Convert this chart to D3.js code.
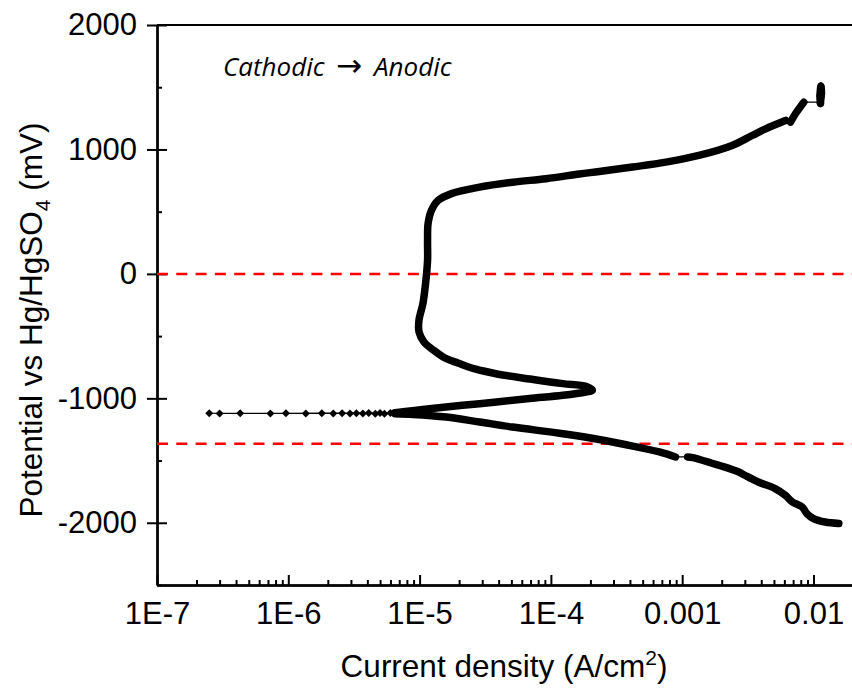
<!DOCTYPE html>
<html>
<head>
<meta charset="utf-8">
<style>
  body { margin: 0; background: #fff; }
  svg { display: block; font-family: "Liberation Sans", Arial, sans-serif; }
  .axis path, .axis line { stroke: #000; stroke-width: 2; }
  .axis text { font-size: 31px; fill: #000; font-family: "Liberation Sans", Arial, sans-serif; }
  .title { font-size: 31.5px; fill: #000; }
  .note { font-family: "Open Sans", sans-serif; font-style: italic; font-size: 26px; fill: #000; }
</style>
</head>
<body>
<div id="chart"></div>
<script src="https://cdnjs.cloudflare.com/ajax/libs/d3/7.8.5/d3.min.js"></script>
<script>
  // current density (A/cm2) and potential (mV), in scan order
  // cathodic branch, -2 V up to the small gap near 1 mA/cm2
  const cathodicI = [1.56e-2, 1.23e-2, 1.00e-2, 8.9e-3, 8.2e-3, 6.9e-3, 6.1e-3, 5.1e-3, 3.8e-3, 3.0e-3, 2.7e-3, 1.9e-3, 1.2e-3, 1.1e-3];
  const cathodicE = [-2006, -1994, -1966, -1926, -1873, -1833, -1779, -1725, -1672, -1618, -1592, -1538, -1476, -1471];

  // cathodic branch after the gap, down towards Ecorr
  const cathodicI2 = [8.9e-4, 6.7e-4, 3.75e-4, 2.06e-4, 1.16e-4, 5.1e-5, 2.86e-5, 1.6e-5, 8.9e-6, 6.5e-6];
  const cathodicE2 = [-1471, -1431, -1373, -1321, -1280, -1231, -1190, -1150, -1129, -1124];

  // sparse points around the corrosion potential
  const corrI = [5.4e-6, 4.6e-6, 3.7e-6, 2.95e-6, 2.2e-6, 1.36e-6, 7.3e-7, 3.0e-7, 2.5e-7, 4.3e-7, 9.6e-7, 1.8e-6, 2.57e-6, 3.3e-6, 4.1e-6, 5.0e-6, 6.0e-6];
  const corrE = [-1123, -1123, -1122, -1122, -1121, -1121, -1121, -1121, -1120, -1120, -1120, -1119, -1119, -1119, -1118, -1118, -1117];

  // anodic branch: active peak, passive plateau, breakdown
  const anodicI = [6.5e-6, 1.19e-5, 2.86e-5, 6.87e-5, 1.23e-4, 1.85e-4, 2.07e-4, 1.85e-4, 1.23e-4, 6.93e-5, 3.89e-5, 2.64e-5, 1.96e-5, 1.56e-5, 1.27e-5, 1.08e-5, 9.9e-6, 9.9e-6, 1.06e-5, 1.11e-5, 1.15e-5, 1.15e-5, 1.16e-5, 1.23e-5, 1.38e-5, 1.75e-5, 2.86e-5, 5.13e-5, 9.21e-5, 1.65e-4, 2.34e-4, 4.19e-4, 7.5e-4, 1.34e-3, 2.4e-3, 3.41e-3, 4.32e-3, 6.12e-3];
  const anodicE = [-1116, -1083, -1043, -1002, -976, -949, -936, -904, -882, -845, -804, -764, -716, -676, -611, -547, -466, -370, -239, -79, 108, 269, 403, 510, 590, 645, 697, 737, 765, 803, 823, 859, 898, 952, 1032, 1112, 1166, 1233];

  const anodicI2 = [6.68e-3, 7.29e-3, 8.44e-3];
  const anodicE2 = [1219, 1287, 1380];

  const endI = [1.13e-2, 1.15e-2, 1.14e-2, 1.12e-2, 1.13e-2];
  const endE = [1380, 1450, 1510, 1430, 1370];

  const refLines = [0, -1365];

  const xMajor = [1e-7, 1e-6, 1e-5, 1e-4, 1e-3, 1e-2];
  const xLabels = ["1E-7", "1E-6", "1E-5", "1E-4", "0.001", "0.01"];
  const yMajor = [-2000, -1000, 0, 1000, 2000];
  const yMinor = [-2500, -1500, -500, 500, 1500];

  const width = 852, height = 691;
  const margin = { top: 25, right: 0, bottom: 106, left: 157 };
  const innerW = width - margin.left - margin.right;
  const innerH = height - margin.top - margin.bottom;

  const svg = d3.select("#chart").append("svg")
    .attr("width", width)
    .attr("height", height);

  const g = svg.append("g")
    .attr("transform", `translate(${margin.left},${margin.top})`);

  const x = d3.scaleLog().domain([1e-7, 0.02]).range([0, innerW + 1]);
  const y = d3.scaleLinear().domain([-2500, 2000]).range([innerH, 0]);

  const zip = (a, b) => a.map((v, i) => [v, b[i]]);
  const cath1 = zip(cathodicI, cathodicE);
  const cath2 = zip(cathodicI2, cathodicE2);
  const corr = zip(corrI, corrE);
  const an1 = zip(anodicI, anodicE);
  const an2 = zip(anodicI2, anodicE2);
  const ends = zip(endI, endE);

  // minor ticks on the log axis
  const xMinor = [];
  xMajor.forEach(d => { for (let k = 2; k <= 9; k++) if (d * k <= 0.02) xMinor.push(d * k); });

  // x axis: labels below, ticks pointing inward
  g.append("g").attr("class", "axis")
    .attr("transform", `translate(0,${innerH})`)
    .call(d3.axisBottom(x).tickValues(xMajor).tickSize(0).tickPadding(17)
      .tickFormat((d, i) => xLabels[i]));
  g.append("g").attr("class", "axis")
    .attr("transform", `translate(0,${innerH})`)
    .call(d3.axisTop(x).tickValues(xMajor).tickSize(10).tickSizeOuter(0).tickFormat(""));
  g.append("g").attr("class", "axis")
    .attr("transform", `translate(0,${innerH})`)
    .call(d3.axisTop(x).tickValues(xMinor).tickSize(5).tickSizeOuter(0).tickFormat(""));

  // y axis: major ticks cross the spine
  g.append("g").attr("class", "axis")
    .call(d3.axisLeft(y).tickValues(yMajor).tickSize(10).tickSizeOuter(0).tickPadding(10)
      .tickFormat(d => String(d)));
  g.append("g").attr("class", "axis")
    .call(d3.axisRight(y).tickValues(yMajor).tickSize(10).tickSizeOuter(0).tickFormat(""));
  g.append("g").attr("class", "axis")
    .call(d3.axisRight(y).tickValues(yMinor).tickSize(5).tickSizeOuter(0).tickFormat(""));

  // top frame line
  g.append("line")
    .attr("x1", 0).attr("x2", innerW + 2)
    .attr("y1", 0).attr("y2", 0)
    .attr("stroke", "#000").attr("stroke-width", 2);

  // red reference lines
  g.selectAll(".ref").data(refLines).join("line")
    .attr("class", "ref")
    .attr("x1", 0).attr("x2", innerW)
    .attr("y1", d => y(d)).attr("y2", d => y(d))
    .attr("stroke", "#ff0000").attr("stroke-width", 2.5)
    .attr("stroke-dasharray", "11,8.3");

  const line = d3.line().x(d => x(d[0])).y(d => y(d[1])).curve(d3.curveCatmullRom.alpha(0.5));

  // thin connecting line through every point
  const all = [].concat(cath1, cath2, corr, an1, an2, ends);
  g.append("path")
    .attr("d", d3.line().x(d => x(d[0])).y(d => y(d[1]))(all))
    .attr("fill", "none").attr("stroke", "#000").attr("stroke-width", 1.2);

  // dense stretches: overlapping markers read as a thick band
  g.selectAll(".dense").data([cath1, cath2, an1, an2, ends]).join("path")
    .attr("class", "dense")
    .attr("d", d => line(d))
    .attr("fill", "none").attr("stroke", "#000")
    .attr("stroke-width", 7.5)
    .attr("stroke-linejoin", "round").attr("stroke-linecap", "round");

  // diamond markers where points are sparse
  const diamond = "M0,-4L4,0L0,4L-4,0Z";
  g.selectAll(".pt").data(corr.concat(ends)).join("path")
    .attr("class", "pt")
    .attr("d", diamond)
    .attr("transform", d => `translate(${x(d[0])},${y(d[1])})`)
    .attr("fill", "#000");

  // note
  const note = svg.append("text")
    .attr("class", "note")
    .attr("y", 76);
  note.append("tspan").attr("x", 223).text("Cathodic");
  note.append("tspan").attr("x", 336).attr("font-family", "DejaVu Sans").attr("font-style", "normal")
    .attr("font-size", 31).text("\u2192");
  note.append("tspan").attr("x", 374).text("Anodic");

  // axis titles
  const xt = svg.append("text")
    .attr("class", "title")
    .attr("x", 504).attr("y", 677)
    .attr("text-anchor", "middle");
  xt.append("tspan").text("Current density (A/cm");
  xt.append("tspan").attr("dy", -12).attr("font-size", 21).text("2");
  xt.append("tspan").attr("dy", 12).text(")");

  const yt = svg.append("text")
    .attr("class", "title")
    .attr("font-size", 32)
    .attr("transform", "rotate(-90)")
    .attr("x", -320).attr("y", 42)
    .attr("text-anchor", "middle");
  yt.append("tspan").text("Potential vs Hg/HgSO");
  yt.append("tspan").attr("dy", 8).attr("font-size", 21).text("4");
  yt.append("tspan").attr("dy", -8).text(" (mV)");
</script>
</body>
</html>
